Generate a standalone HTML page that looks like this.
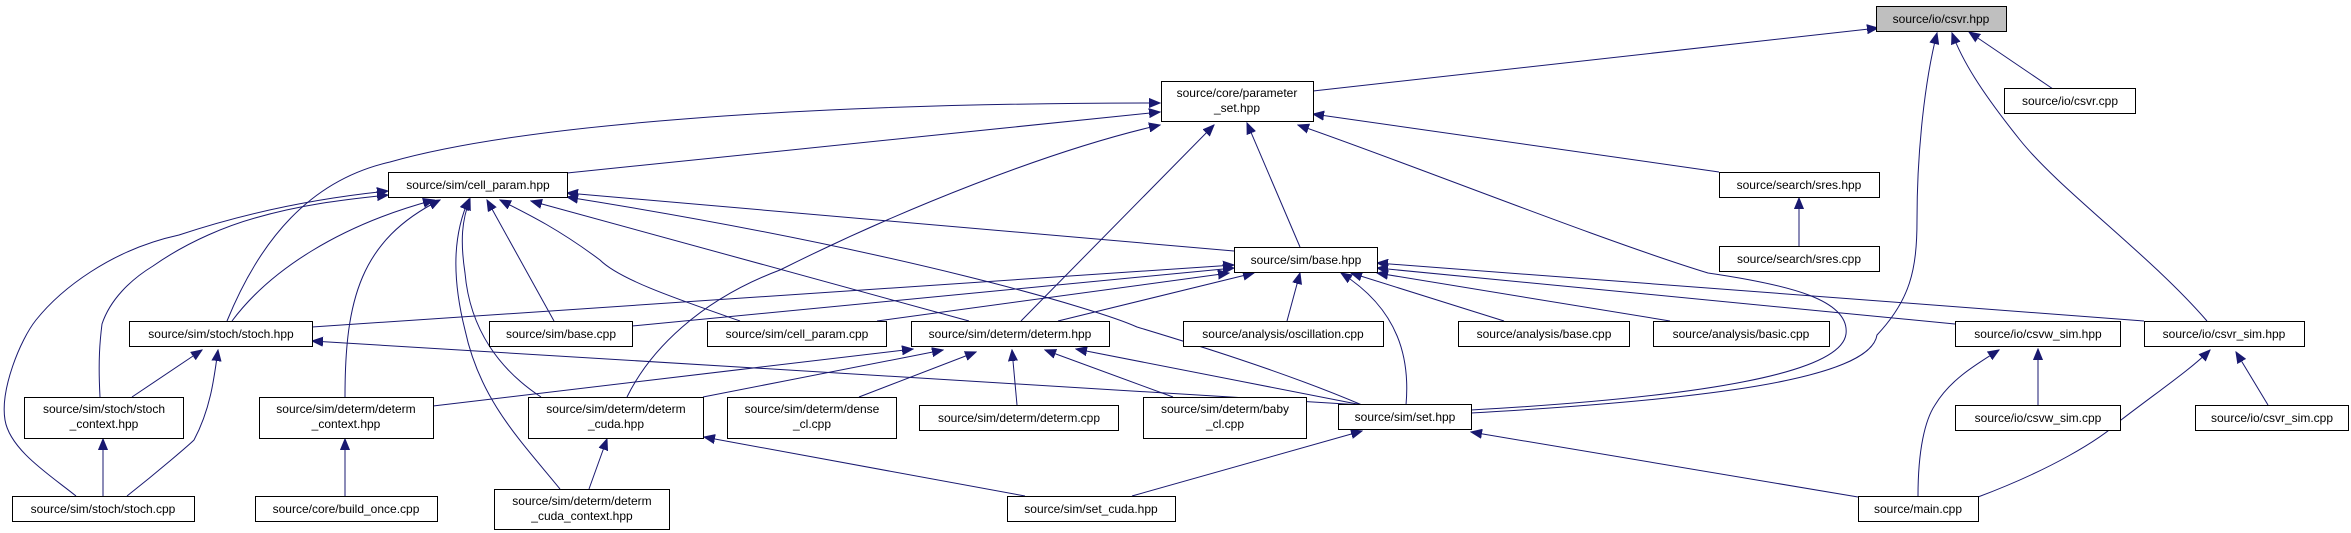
<!DOCTYPE html>
<html><head><meta charset="utf-8"><style>
html,body{margin:0;padding:0;background:#fff}
svg{display:block}
text{font-family:"Liberation Sans",sans-serif;font-size:12px;fill:#000}
.n{fill:#fff;stroke:#000;stroke-width:1}
.e{fill:none;stroke:#191970;stroke-width:1;marker-end:url(#a)}
</style></head><body>
<svg width="2351" height="533" viewBox="0 0 2351 533" xmlns="http://www.w3.org/2000/svg">
<defs><marker id="a" markerWidth="12" markerHeight="10" refX="11" refY="5" orient="auto" markerUnits="userSpaceOnUse"><path d="M0,0.5 L11,5 L0,9.5 Z" fill="#191970" stroke="#191970"/></marker></defs>
<g>
<path class="e" d="M1313,91 L1878,28"/>
<path class="e" d="M2053,89 L1969,32"/>
<path class="e" d="M2207,321 C2150,255 2060,190 2020,140 S1962,60 1952,33"/>
<path class="e" d="M1471,413 C1700,400 1870,380 1877,335 C1910,300 1917,270 1917,220 C1917,150 1925,80 1937,33"/>
<path class="e" d="M567,173 L1160,112"/>
<path class="e" d="M227,321 C260,240 310,180 390,162 C520,125 800,103 1160,103"/>
<path class="e" d="M1719,172 L1313,114"/>
<path class="e" d="M1300,247 L1247,123"/>
<path class="e" d="M1021,321 L1214,125"/>
<path class="e" d="M627,397 C650,350 700,300 780,270 C900,210 1050,150 1160,125"/>
<path class="e" d="M1471,410 C1650,400 1840,380 1846,334 C1850,300 1790,285 1708,273 C1600,240 1400,160 1298,125"/>
<path class="e" d="M1799,246 L1799,198"/>
<path class="e" d="M232,321 C270,270 340,225 434,200"/>
<path class="e" d="M76,496 C50,475 10,450 5,420 C0,390 20,340 36,320 C60,290 110,250 179,235 C230,218 300,200 388,191"/>
<path class="e" d="M100,397 C98,360 100,340 102,324 C110,300 130,280 153,266 C190,240 230,225 255,218 C300,205 340,200 388,195"/>
<path class="e" d="M345,397 C345,300 360,240 440,200"/>
<path class="e" d="M560,489 C520,440 480,400 465,330 C450,270 455,230 469,199"/>
<path class="e" d="M541,397 C500,370 470,330 465,273 C460,240 462,220 470,199"/>
<path class="e" d="M554,321 L487,200"/>
<path class="e" d="M740,321 C680,300 620,280 600,260 C560,230 530,215 500,200"/>
<path class="e" d="M969,321 L531,201"/>
<path class="e" d="M1234,251 L567,193"/>
<path class="e" d="M1362,405 C1280,370 1180,340 1137,327 C1100,310 900,250 567,197"/>
<path class="e" d="M312,327 L1234,265"/>
<path class="e" d="M632,326 L1234,268"/>
<path class="e" d="M877,321 L1229,273"/>
<path class="e" d="M1058,321 L1254,273"/>
<path class="e" d="M1287,321 L1300,273"/>
<path class="e" d="M1406,405 C1410,360 1400,310 1341,273"/>
<path class="e" d="M1504,321 L1351,273"/>
<path class="e" d="M1670,321 L1377,273"/>
<path class="e" d="M1955,324 L1377,268"/>
<path class="e" d="M2144,321 L1377,263"/>
<path class="e" d="M1362,405 L312,341"/>
<path class="e" d="M433,406 L913,349"/>
<path class="e" d="M703,397 L943,350"/>
<path class="e" d="M859,397 L976,352"/>
<path class="e" d="M1017,405 L1012,350"/>
<path class="e" d="M1173,397 L1045,350"/>
<path class="e" d="M1362,405 L1076,349"/>
<path class="e" d="M132,397 L202,350"/>
<path class="e" d="M127,496 C160,470 190,444 194,440 C210,410 214,380 218,350"/>
<path class="e" d="M103,496 L103,439"/>
<path class="e" d="M345,496 L345,439"/>
<path class="e" d="M589,489 L607,439"/>
<path class="e" d="M1025,496 L704,437"/>
<path class="e" d="M1132,496 L1362,431"/>
<path class="e" d="M1858,497 L1471,432"/>
<path class="e" d="M1918,496 C1918,450 1925,420 1935,405 C1950,380 1975,365 1999,350"/>
<path class="e" d="M2038,405 L2038,349"/>
<path class="e" d="M1978,497 C2050,470 2100,440 2121,420 C2160,390 2190,370 2210,350"/>
<path class="e" d="M2268,405 L2236,352"/>
</g>
<g>
<rect x="1876.5" y="6.5" width="130" height="25" fill="#bfbfbf" stroke="#000"/><text x="1941" y="23" text-anchor="middle">source/io/csvr.hpp</text>
<rect class="n" x="2004.5" y="88.5" width="131" height="25"/><text x="2070" y="105" text-anchor="middle">source/io/csvr.cpp</text>
<rect class="n" x="1161.5" y="81.5" width="152" height="40"/><text x="1237" y="97" text-anchor="middle">source/core/parameter</text><text x="1237" y="112" text-anchor="middle">_set.hpp</text>
<rect class="n" x="1719.5" y="172.5" width="160" height="25"/><text x="1799" y="189" text-anchor="middle">source/search/sres.hpp</text>
<rect class="n" x="1719.5" y="246.5" width="160" height="25"/><text x="1799" y="263" text-anchor="middle">source/search/sres.cpp</text>
<rect class="n" x="388.5" y="172.5" width="179" height="25"/><text x="478" y="189" text-anchor="middle">source/sim/cell_param.hpp</text>
<rect class="n" x="1234.5" y="247.5" width="143" height="25"/><text x="1306" y="264" text-anchor="middle">source/sim/base.hpp</text>
<rect class="n" x="129.5" y="321.5" width="183" height="25"/><text x="221" y="338" text-anchor="middle">source/sim/stoch/stoch.hpp</text>
<rect class="n" x="489.5" y="321.5" width="143" height="25"/><text x="561" y="338" text-anchor="middle">source/sim/base.cpp</text>
<rect class="n" x="707.5" y="321.5" width="179" height="25"/><text x="797" y="338" text-anchor="middle">source/sim/cell_param.cpp</text>
<rect class="n" x="911.5" y="321.5" width="198" height="25"/><text x="1010" y="338" text-anchor="middle">source/sim/determ/determ.hpp</text>
<rect class="n" x="1183.5" y="321.5" width="200" height="25"/><text x="1283" y="338" text-anchor="middle">source/analysis/oscillation.cpp</text>
<rect class="n" x="1458.5" y="321.5" width="171" height="25"/><text x="1544" y="338" text-anchor="middle">source/analysis/base.cpp</text>
<rect class="n" x="1653.5" y="321.5" width="176" height="25"/><text x="1741" y="338" text-anchor="middle">source/analysis/basic.cpp</text>
<rect class="n" x="1955.5" y="321.5" width="165" height="25"/><text x="2038" y="338" text-anchor="middle">source/io/csvw_sim.hpp</text>
<rect class="n" x="2144.5" y="321.5" width="160" height="25"/><text x="2224" y="338" text-anchor="middle">source/io/csvr_sim.hpp</text>
<rect class="n" x="24.5" y="397.5" width="159" height="41"/><text x="104" y="413" text-anchor="middle">source/sim/stoch/stoch</text><text x="104" y="428" text-anchor="middle">_context.hpp</text>
<rect class="n" x="259.5" y="397.5" width="174" height="41"/><text x="346" y="413" text-anchor="middle">source/sim/determ/determ</text><text x="346" y="428" text-anchor="middle">_context.hpp</text>
<rect class="n" x="528.5" y="397.5" width="175" height="41"/><text x="616" y="413" text-anchor="middle">source/sim/determ/determ</text><text x="616" y="428" text-anchor="middle">_cuda.hpp</text>
<rect class="n" x="727.5" y="397.5" width="169" height="41"/><text x="812" y="413" text-anchor="middle">source/sim/determ/dense</text><text x="812" y="428" text-anchor="middle">_cl.cpp</text>
<rect class="n" x="919.5" y="405.5" width="199" height="25"/><text x="1019" y="422" text-anchor="middle">source/sim/determ/determ.cpp</text>
<rect class="n" x="1143.5" y="397.5" width="163" height="41"/><text x="1225" y="413" text-anchor="middle">source/sim/determ/baby</text><text x="1225" y="428" text-anchor="middle">_cl.cpp</text>
<rect class="n" x="1338.5" y="404.5" width="133" height="25"/><text x="1405" y="421" text-anchor="middle">source/sim/set.hpp</text>
<rect class="n" x="1955.5" y="405.5" width="165" height="25"/><text x="2038" y="422" text-anchor="middle">source/io/csvw_sim.cpp</text>
<rect class="n" x="2195.5" y="405.5" width="153" height="25"/><text x="2272" y="422" text-anchor="middle">source/io/csvr_sim.cpp</text>
<rect class="n" x="12.5" y="496.5" width="182" height="25"/><text x="103" y="513" text-anchor="middle">source/sim/stoch/stoch.cpp</text>
<rect class="n" x="255.5" y="496.5" width="182" height="25"/><text x="346" y="513" text-anchor="middle">source/core/build_once.cpp</text>
<rect class="n" x="494.5" y="489.5" width="175" height="40"/><text x="582" y="505" text-anchor="middle">source/sim/determ/determ</text><text x="582" y="520" text-anchor="middle">_cuda_context.hpp</text>
<rect class="n" x="1007.5" y="496.5" width="168" height="25"/><text x="1091" y="513" text-anchor="middle">source/sim/set_cuda.hpp</text>
<rect class="n" x="1858.5" y="496.5" width="120" height="25"/><text x="1918" y="513" text-anchor="middle">source/main.cpp</text>
</g>
</svg>
</body></html>
